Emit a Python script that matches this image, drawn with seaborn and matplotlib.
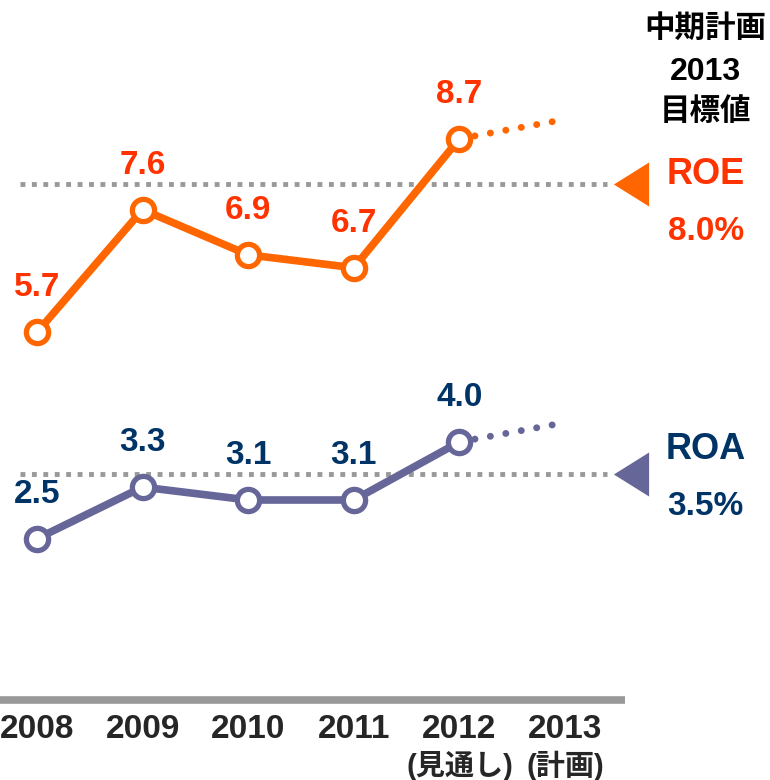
import numpy as np
import pandas as pd
import matplotlib
matplotlib.use("Agg")
import matplotlib.pyplot as plt
import seaborn as sns

# data
years = ["2008", "2009", "2010", "2011", "2012", "2013"]
sub_labels = ["", "", "", "", "(見通し)", "(計画)"]
roe = [5.7, 7.6, 6.9, 6.7, 8.7]
roa = [2.5, 3.3, 3.1, 3.1, 4.0]
roe_plan = [8.7, 9.0]        # dotted extension 2012 -> 2013
roa_plan = [4.0, 4.3]
roe_target = 8.0
roa_target = 3.5
header = ["中期計画", "2013", "目標値"]

ROE_LINE, ROE_TEXT = "#ff6600", "#ff3300"
ROA_LINE, ROA_TEXT = "#666699", "#003366"
GRAY = "#999999"

sns.set_theme(style="white")
plt.rcParams["font.family"] = ["Liberation Sans", "Noto Sans CJK JP", "DejaVu Sans"]
plt.rcParams["font.weight"] = "bold"

fig = plt.figure(figsize=(7.7, 7.8), dpi=100)
ax = fig.add_axes([0, 0, 1, 1])
ax.set_xlim(-0.35, 6.94)
ax.set_ylim(-1.24, 10.85)
ax.axis("off")

idx = np.arange(len(roe))
df = pd.DataFrame({"x": np.concatenate([idx, idx]),
                   "val": roe + roa,
                   "kind": ["ROE"] * len(roe) + ["ROA"] * len(roa)})

# target reference lines
for t in (roe_target, roa_target):
    ax.plot([-0.16, 5.40], [t, t], color=GRAY, lw=3.5,
            linestyle=(0, (1, 1.35)), solid_capstyle="butt", zorder=1)

# dotted plan extensions
for vals, c in ((roe_plan, ROE_LINE), (roa_plan, ROA_LINE)):
    ax.plot([4, 5], vals, color=c, lw=5, linestyle=(0, (0.01, 2.25)),
            dash_capstyle="round", zorder=2)

for kind, c in (("ROE", ROE_LINE), ("ROA", ROA_LINE)):
    sns.lineplot(data=df[df["kind"] == kind], x="x", y="val", ax=ax,
                 color=c, lw=5.5, marker="o", markersize=16,
                 markerfacecolor="white", markeredgecolor=c,
                 markeredgewidth=3.8, zorder=3, legend=False)

# value labels
for vals, c in ((roe, ROE_TEXT), (roa, ROA_TEXT)):
    for i, v in enumerate(vals):
        ax.annotate(f"{v:.1f}", (i, v), xytext=(0, 32), textcoords="offset points",
                    ha="center", va="center", fontsize=24, color=c, fontweight="bold")

# baseline axis
ax.plot([-0.36, 5.57], [0, 0], color=GRAY, lw=5.5, solid_capstyle="butt", zorder=1)

# year labels
for i, (y, s) in enumerate(zip(years, sub_labels)):
    ax.text(i, -0.45, y, ha="center", va="center", fontsize=24, fontweight="bold")
    if s:
        ax.text(i, -1.02, s, ha="center", va="center", fontsize=21, fontweight="bold")

# right-hand target annotations
tri = [(-0.8, 0), (0.8, 1), (0.8, -1)]
for t, name, c_line, c_text, up, dn in ((roe_target, "ROE", ROE_LINE, ROE_TEXT, 0.14, 0.74),
                                        (roa_target, "ROA", ROA_LINE, ROA_TEXT, 0.38, 0.50)):
    ax.plot([5.62], [t], marker=tri, markersize=31.7, color=c_line,
            markeredgewidth=0, zorder=3)
    ax.text(6.33, t + up, name, ha="center", va="center", fontsize=26,
            color=c_text, fontweight="bold")
    ax.text(6.33, t - dn, f"{t:.1f}%", ha="center", va="center", fontsize=24,
            color=c_text, fontweight="bold")

for k, (h, yy) in enumerate(zip(header, [10.41, 9.73, 9.11])):
    ax.text(6.33, yy, h, ha="center", va="center",
            fontsize=22 if k != 1 else 23, fontweight="bold", color="black")

fig.savefig("out.png", dpi=100)
